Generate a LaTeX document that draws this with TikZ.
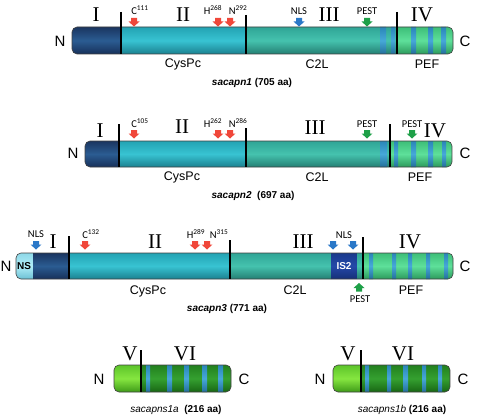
\documentclass[tikz,border=0pt]{standalone}
\usepackage{fontspec}
\setmainfont{Liberation Sans}
\newfontfamily\romfont{Liberation Serif}
\newfontfamily\smfont{Carlito}
\definecolor{navyT}{HTML}{1A3560}
\definecolor{navyM}{HTML}{2B5C92}
\definecolor{navyB}{HTML}{17305A}
\definecolor{tealT}{HTML}{23A3B3}
\definecolor{tealM}{HTML}{38C3D2}
\definecolor{tealB}{HTML}{1B8190}
\definecolor{c2T}{HTML}{2FA596}
\definecolor{c2M}{HTML}{45C2AE}
\definecolor{c2B}{HTML}{247F73}
\definecolor{pefT}{HTML}{3DBE78}
\definecolor{pefM}{HTML}{5EE09A}
\definecolor{pefB}{HTML}{2C9A5C}
\definecolor{strT}{HTML}{2A86B8}
\definecolor{strM}{HTML}{46A8D8}
\definecolor{strB}{HTML}{236F9A}
\definecolor{isT}{HTML}{1A3A8C}
\definecolor{isM}{HTML}{2448A8}
\definecolor{isB}{HTML}{162F78}
\definecolor{nsT}{HTML}{8ED8E8}
\definecolor{nsM}{HTML}{B0EEF8}
\definecolor{nsB}{HTML}{6CC0D4}
\definecolor{vT}{HTML}{5CC42A}
\definecolor{vM}{HTML}{86E640}
\definecolor{vB}{HTML}{3E9A18}
\definecolor{viT}{HTML}{22801E}
\definecolor{viM}{HTML}{35A030}
\definecolor{viB}{HTML}{186614}
\definecolor{redA}{HTML}{F0473A}
\definecolor{bluA}{HTML}{2A78C8}
\definecolor{grnA}{HTML}{1EA048}
\begin{document}
\begin{tikzpicture}[x=1pt,y=-1pt,
  sI/.style={top color=navyT,bottom color=navyB,middle color=navyM},
  sII/.style={top color=tealT,bottom color=tealB,middle color=tealM},
  sIII/.style={top color=c2T,bottom color=c2B,middle color=c2M},
  sPEF/.style={top color=pefT,bottom color=pefB,middle color=pefM},
  sStr/.style={top color=strT,bottom color=strB,middle color=strM},
  sIS/.style={top color=isT,bottom color=isB,middle color=isM},
  sNS/.style={top color=nsT,bottom color=nsB,middle color=nsM},
  sV/.style={top color=vT,bottom color=vB,middle color=vM},
  sVI/.style={top color=viT,bottom color=viB,middle color=viM},
  outl/.style={draw=black!75,line width=0.6pt,rounded corners=5pt},
  divl/.style={draw=black,line width=1.1pt},
  rom/.style={font=\romfont\fontsize{21}{21}\selectfont,inner sep=0pt},
  term/.style={font=\fontsize{15}{15}\selectfont,inner sep=0pt},
  dom/.style={font=\fontsize{12.5}{12.5}\selectfont,inner sep=0pt},
  ttl/.style={font=\bfseries\fontsize{10}{10}\selectfont,inner sep=0pt},
  ttlb/.style={font=\fontsize{10}{10}\selectfont,inner sep=0pt},
  sml/.style={font=\smfont\fontsize{10.5}{10.5}\selectfont,inner sep=0pt},
  inlab/.style={font=\bfseries\fontsize{10}{10}\selectfont,inner sep=0pt},
  dnarr/.pic={\path[pic actions] (-3,0) -- (3,0) -- (3,3.5) -- (5.5,3.5) -- (0,8.5) -- (-5.5,3.5) -- (-3,3.5) -- cycle;}
]
\useasboundingbox (0,0) rectangle (478,417);

% ================= Bar 1: sacapn1 =================
\begin{scope}
\clip[rounded corners=5pt] (72,27) rectangle (453,54);
\shade[sI] (72,27) rectangle (121,54);
\shade[sII] (121,27) rectangle (246,54);
\shade[sIII] (246,27) rectangle (397,54);
\shade[sPEF] (397,27) rectangle (453,54);
\foreach \a/\b in {380/386,391/395,411/416,428/433,441/446}
  \shade[sStr] (\a,27) rectangle (\b,54);
\end{scope}
\draw[outl] (72,27) rectangle (453,54);
\draw[divl] (121,12) -- (121,54);
\draw[divl] (246,15) -- (246,54);
\draw[divl] (397,12) -- (397,54);
\node[rom] (b1I) at (96,15) {I};
\node[rom] (b1II) at (183,15) {II};
\node[rom] (b1III) at (329,15) {III};
\node[rom] (b1IV) at (422,15) {IV};
\node[term] (b1N) at (60,41) {N};
\node[term] (b1C) at (465,41) {C};
\pic[fill=redA] at (134,18) {dnarr};
\pic[fill=redA] at (218,18) {dnarr};
\pic[fill=redA] at (230,18) {dnarr};
\pic[fill=bluA] at (299,18) {dnarr};
\pic[fill=grnA] at (367,18) {dnarr};
\node[sml] (b1c) at (140,10) {C\textsuperscript{111}};
\node[sml] (b1h) at (213,10) {H\textsuperscript{268}};
\node[sml] (b1n) at (238,10) {N\textsuperscript{292}};
\node[sml] (b1nls) at (299,11) {NLS};
\node[sml] (b1pest) at (367,11) {PEST};
\node[dom] (b1cys) at (183,64) {CysPc};
\node[dom] (b1c2l) at (317,64) {C2L};
\node[dom] (b1pef) at (427,64) {PEF};
\node[ttl] (b1t) at (252,83) {\itshape sacapn1\upshape\ (705 aa)};

% ================= Bar 2: sacapn2 =================
\begin{scope}
\clip[rounded corners=5pt] (85,141) rectangle (452,167);
\shade[sI] (85,141) rectangle (119,167);
\shade[sII] (119,141) rectangle (246,167);
\shade[sIII] (246,141) rectangle (390,167);
\shade[sPEF] (390,141) rectangle (452,167);
\foreach \a/\b in {380/387,394/398,411/416,428/433,442/446}
  \shade[sStr] (\a,141) rectangle (\b,167);
\end{scope}
\draw[outl] (85,141) rectangle (452,167);
\draw[divl] (119,124) -- (119,167);
\draw[divl] (246,128) -- (246,167);
\draw[divl] (390,124) -- (390,167);
\node[rom] (b2I) at (100,131) {I};
\node[rom] (b2II) at (182,127) {II};
\node[rom] (b2III) at (315,128) {III};
\node[rom] (b2IV) at (435,131) {IV};
\node[term] (b2N) at (73,153) {N};
\node[term] (b2C) at (465,153) {C};
\pic[fill=redA] at (134,130) {dnarr};
\pic[fill=redA] at (218,130) {dnarr};
\pic[fill=redA] at (230,130) {dnarr};
\pic[fill=grnA] at (367,130) {dnarr};
\pic[fill=grnA] at (412,130) {dnarr};
\node[sml] (b2c) at (140,123) {C\textsuperscript{105}};
\node[sml] (b2h) at (213,123) {H\textsuperscript{262}};
\node[sml] (b2n) at (238,123) {N\textsuperscript{286}};
\node[sml] (b2p1) at (367,124) {PEST};
\node[sml] (b2p2) at (412,124) {PEST};
\node[dom] (b2cys) at (182,177) {CysPc};
\node[dom] (b2c2l) at (317,177) {C2L};
\node[dom] (b2pef) at (420,177) {PEF};
\node[ttl] (b2t) at (253,196) {\itshape sacapn2\upshape\ \ (697 aa)};

% ================= Bar 3: sacapn3 =================
\begin{scope}
\clip[rounded corners=5pt] (16,253) rectangle (453,279);
\shade[sNS] (16,253) rectangle (33,279);
\shade[sI] (33,253) rectangle (69,279);
\shade[sII] (69,253) rectangle (230,279);
\shade[sIII] (230,253) rectangle (331,279);
\shade[sIS] (331,253) rectangle (357,279);
\shade[sIII] (357,253) rectangle (363,279);
\shade[sPEF] (363,253) rectangle (453,279);
\foreach \a/\b in {369/373,392/396,408/412,426/430,444/448}
  \shade[sStr] (\a,253) rectangle (\b,279);
\end{scope}
\draw[outl] (16,253) rectangle (453,279);
\draw[divl] (69,236) -- (69,279);
\draw[divl] (230,240) -- (230,279);
\draw[divl] (363,237) -- (363,279);
\node[inlab] (ns) at (24,266) {NS};
\node[inlab,text=white] (is2) at (344,266) {IS2};
\node[rom] (b3I) at (53,242) {I};
\node[rom] (b3II) at (155,242) {II};
\node[rom] (b3III) at (303,242) {III};
\node[rom] (b3IV) at (410,242) {IV};
\node[term] (b3N) at (6,266) {N};
\node[term] (b3C) at (465,266) {C};
\pic[fill=bluA] at (36,241) {dnarr};
\pic[fill=redA] at (85,241) {dnarr};
\pic[fill=redA] at (195,241) {dnarr};
\pic[fill=redA] at (207,241) {dnarr};
\pic[fill=bluA] at (333,241) {dnarr};
\pic[fill=bluA] at (353,241) {dnarr};
\pic[fill=grnA,rotate=180] at (359,291.5) {dnarr};
\node[sml] (b3nls1) at (36,234) {NLS};
\node[sml] (b3c) at (91,234) {C\textsuperscript{132}};
\node[sml] (b3h) at (196,234) {H\textsuperscript{289}};
\node[sml] (b3n) at (219,234) {N\textsuperscript{315}};
\node[sml] (b3nls2) at (344,235) {NLS};
\node[sml] (b3pest) at (360,299) {PEST};
\node[dom] (b3cys) at (148,291) {CysPc};
\node[dom] (b3c2l) at (295,290) {C2L};
\node[dom] (b3pef) at (411,290) {PEF};
\node[ttl] (b3t) at (227,309) {\itshape sacapn3\upshape\ (771 aa)};

% ================= Bar 4: sacapns1a =================
\begin{scope}
\clip[rounded corners=5pt] (114,365) rectangle (231,392);
\shade[sV] (114,365) rectangle (141,392);
\shade[sVI] (141,365) rectangle (231,392);
\foreach \a/\b in {146/150,167/172,184/189,202/207,218/223}
  \shade[sStr] (\a,365) rectangle (\b,392);
\end{scope}
\draw[outl] (114,365) rectangle (231,392);
\draw[divl] (141,350) -- (141,392);
\node[rom] (b4V) at (130,354) {V};
\node[rom] (b4VI) at (185,354) {VI};
\node[term] (b4N) at (99,379) {N};
\node[term] (b4C) at (244,379) {C};
\node[ttlb] (b4t) at (176,410) {\itshape sacapns1a\upshape\ \ \bfseries (216 aa)};

% ================= Bar 5: sacapns1b =================
\begin{scope}
\clip[rounded corners=5pt] (333,365) rectangle (450,392);
\shade[sV] (333,365) rectangle (361,392);
\shade[sVI] (361,365) rectangle (450,392);
\foreach \a/\b in {365/369,387/391,403/408,422/426,438/442}
  \shade[sStr] (\a,365) rectangle (\b,392);
\end{scope}
\draw[outl] (333,365) rectangle (450,392);
\draw[divl] (361,350) -- (361,392);
\node[rom] (b5V) at (348,354) {V};
\node[rom] (b5VI) at (403,354) {VI};
\node[term] (b5N) at (320,379) {N};
\node[term] (b5C) at (463,379) {C};
\node[ttlb] (b5t) at (402,410) {\itshape sacapns1b\upshape\ \bfseries (216 aa)};
\end{tikzpicture}
\end{document}
